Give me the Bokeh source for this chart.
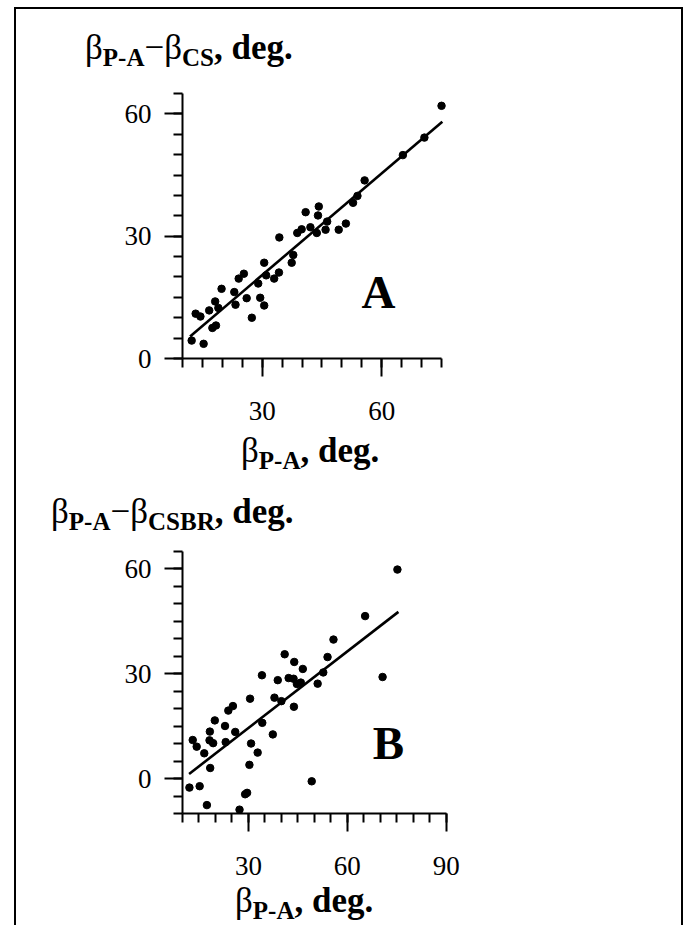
from bokeh.plotting import figure
from bokeh.models import FixedTicker, Label, Div
from bokeh.layouts import column
from bokeh.embed import file_html
from bokeh.resources import INLINE

# ---------------- data ----------------
# Panel A: beta_PA vs beta_PA - beta_CS
a_x = [12.3, 15.3, 13.3, 14.5, 16.7, 18.2, 19.0, 17.5, 18.4, 19.8, 23.0, 23.3,
       24.1, 25.4, 26.1, 27.4, 29.0, 29.5, 30.5, 30.5, 31.0, 33.0, 34.2, 34.3,
       37.4, 37.8, 38.8, 39.9, 40.9, 42.1, 43.7, 44.0, 44.2, 45.9, 46.3, 49.2,
       51.0, 52.8, 53.9, 55.7, 65.3, 70.7, 75.0]
a_y = [4.4, 3.6, 11.0, 10.3, 11.8, 14.0, 12.4, 7.5, 8.1, 17.1, 16.3, 13.2,
       19.6, 20.8, 14.8, 10.0, 18.4, 14.9, 13.0, 23.5, 20.4, 19.6, 21.1, 29.7,
       23.5, 25.4, 30.8, 31.7, 35.9, 32.2, 30.8, 35.1, 37.3, 31.6, 33.6, 31.6,
       33.1, 38.2, 39.9, 43.7, 49.9, 54.2, 62.0]
a_fit_x = [11.9, 75.2]
a_fit_y = [5.4, 58.1]

# Panel B: beta_PA vs beta_PA - beta_CSBR
b_x = [12.1, 15.2, 17.4, 27.3, 29.0, 29.6, 49.2, 18.4, 30.3, 32.8, 30.8, 13.1,
       14.3, 16.6, 18.2, 19.3, 23.1, 37.4, 18.3, 19.8, 22.9, 23.9, 25.3, 26.0,
       30.5, 34.1, 34.2, 37.9, 38.9, 40.0, 41.0, 42.2, 43.8, 43.9, 43.7, 44.7,
       45.9, 46.5, 51.0, 52.7, 54.0, 55.8, 65.4, 70.7, 75.2]
b_y = [-2.6, -2.2, -7.6, -8.9, -4.5, -4.1, -0.8, 3.0, 3.9, 7.4, 10.0, 11.0,
       9.1, 7.2, 10.9, 10.1, 10.4, 12.6, 13.4, 16.6, 15.0, 19.4, 20.7, 13.3,
       22.8, 29.5, 15.9, 23.1, 28.1, 22.1, 35.5, 28.7, 20.5, 33.3, 28.5, 27.0,
       27.4, 31.3, 27.1, 30.3, 34.7, 39.7, 46.4, 29.0, 59.7]
b_fit_x = [12.0, 75.5]
b_fit_y = [1.3, 47.6]

a_x_major = [30, 60]
a_x_minor = list(range(10, 80, 5))
a_y_major = [0, 30, 60]
a_y_minor = list(range(0, 70, 5))
b_x_major = [30, 60, 90]
b_x_minor = list(range(10, 95, 5))
b_y_major = [0, 30, 60]
b_y_minor = list(range(-10, 70, 5))

# ---------------- layout constants ----------------
SERIF = "Liberation Serif"
W = 665
BORDER_L = 166
MAIN_PX = 35
SUB_PX = 25


def make_panel(height, xr, yr, xb, yb, xmaj, xmin, ymaj, ymin, top, bottom, right):
    p = figure(width=W, height=height, x_range=xr, y_range=yr,
               output_backend="svg", toolbar_location=None,
               min_border_left=BORDER_L, min_border_right=right,
               min_border_top=top, min_border_bottom=bottom)
    p.outline_line_color = None
    p.grid.visible = False
    p.background_fill_color = "white"
    p.border_fill_color = "white"
    for ax, b, maj, mn in ((p.xaxis[0], xb, xmaj, xmin), (p.yaxis[0], yb, ymaj, ymin)):
        ax.bounds = b
        ax.ticker = FixedTicker(ticks=maj, minor_ticks=mn)
        ax.axis_line_width = 2
        ax.axis_line_color = "black"
        ax.major_tick_line_width = 2
        ax.minor_tick_line_width = 2
        ax.major_tick_line_color = "black"
        ax.minor_tick_line_color = "black"
        ax.major_tick_in = 0
        ax.minor_tick_in = 0
        ax.major_tick_out = 18
        ax.minor_tick_out = 9
        ax.major_label_text_font = SERIF
        ax.major_label_text_font_size = "27px"
        ax.major_label_text_color = "black"
        ax.major_label_text_font_style = "normal"
    p.xaxis.major_label_standoff = 25
    p.yaxis.major_label_standoff = 13
    p.yaxis.major_label_orientation = "horizontal"
    return p


def title_html(left, baseline, sub2):
    sub = (f"font-size:{SUB_PX}px;font-weight:bold;position:relative;top:7px;"
           "line-height:0")
    inner = f'β<span style="{sub}">P-A</span>'
    if sub2:
        inner += f'−β<span style="{sub}">{sub2}</span>'
    inner += '<span style="font-weight:bold">, deg.</span>'
    top = baseline - 0.8375 * MAIN_PX
    return (f'<span style="position:absolute;left:{left}px;top:{top:.1f}px;'
            f'font-family:\'{SERIF}\';font-size:{MAIN_PX}px;line-height:{MAIN_PX}px;'
            f'white-space:nowrap;color:black">{inner}</span>')


def text_div(height, spans):
    html = (f'<div style="position:relative;width:{W}px;height:{height}px;">'
            + "".join(spans) + '</div>')
    return Div(text=html, width=W, height=height, margin=0,
               styles={"overflow": "visible"})


# ---------------- panel A ----------------
a_xr = (10, 77)
a_yr = (0, 66)
A_H, a_top, a_fh, a_fw = 355, 14, 269, 273
pA = make_panel(A_H, a_xr, a_yr, (10, 75), (0, 65), a_x_major, a_x_minor,
                a_y_major, a_y_minor, a_top, A_H - a_top - a_fh, W - BORDER_L - a_fw)
pA.line(a_fit_x, a_fit_y, line_width=2.6, color="black")
pA.scatter(a_x, a_y, size=7.5, color="black")
pA.add_layout(Label(x=59.2, y=16.3, text="A", text_font=SERIF, text_font_size="47px",
                    text_font_style="bold", text_align="center",
                    text_baseline="alphabetic", text_color="black"))

# ---------------- panel B ----------------
b_xr = (10, 91)
b_yr = (-10, 66)
B_H, b_top, b_fh, b_fw = 350, 12, 266, 267
pB = make_panel(B_H, b_xr, b_yr, (10, 90), (-10, 65), b_x_major, b_x_minor,
                b_y_major, b_y_minor, b_top, B_H - b_top - b_fh, W - BORDER_L - b_fw)
pB.line(b_fit_x, b_fit_y, line_width=2.6, color="black")
pB.scatter(b_x, b_y, size=7.5, color="black")
pB.add_layout(Label(x=72.5, y=10.1, text="B", text_font=SERIF, text_font_size="47px",
                    text_font_style="bold", text_align="center",
                    text_baseline="alphabetic", text_color="black"))

# ---------------- texts (HTML with subscripts) ----------------
div_top = text_div(66, [title_html(69, 50, "CS")])
div_mid = text_div(105, [title_html(225, 32, None), title_html(35, 93, "CSBR")])
div_bot = text_div(40, [title_html(219, 27, None)])

layout = column(div_top, pA, div_mid, pB, div_bot, margin=(7, 0, 0, 14),
                styles={"border-top": "2px solid black",
                        "border-left": "2px solid black",
                        "border-right": "2px solid black"})

open("out.html", "w").write(file_html(layout, INLINE))
